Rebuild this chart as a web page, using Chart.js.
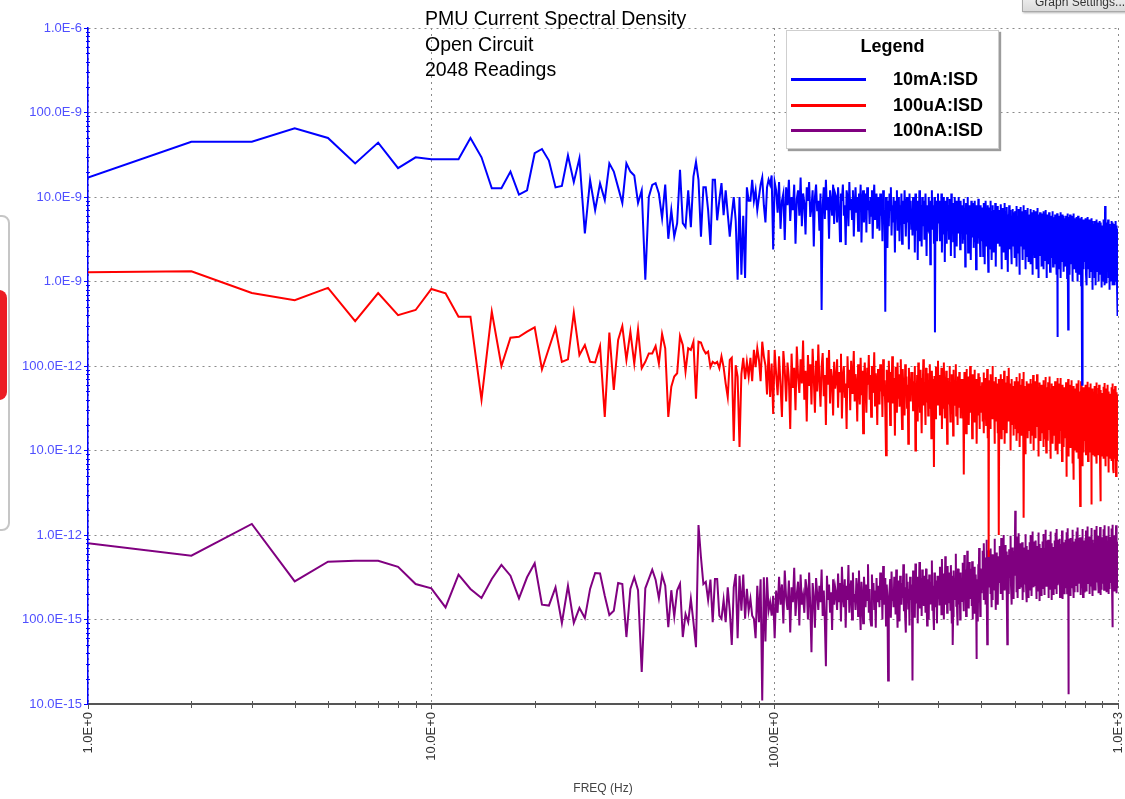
<!DOCTYPE html>
<html lang="en">
<head>
<meta charset="utf-8">
<title>PMU Current Spectral Density</title>
<script src="https://cdn.jsdelivr.net/npm/chart.js@4.4.1/dist/chart.umd.min.js"></script>
<style>
  html, body { margin: 0; padding: 0; background: #ffffff; }
  #frame { position: relative; width: 1125px; height: 799px; overflow: hidden;
           font-family: "Liberation Sans", Arial, sans-serif; }
  #isdChart { position: absolute; left: 0; top: 0; }
  #plotTitle { position: absolute; left: 425px; top: 6px; font-size: 19.5px; line-height: 25.5px;
               color: #000; white-space: nowrap; }
  #legendBox { position: absolute; left: 786px; top: 30px; width: 211px; height: 117px; background: #fff;
               border: 1px solid #cfcfcf; box-shadow: 2px 2px 1px #9c9c9c; }
  #legendBox .head { position: absolute; left: 0; right: 0; top: 5px; text-align: center;
                     font-weight: bold; font-size: 18px; line-height: 21px; color: #000; }
  #legendBox .entry { position: absolute; left: 0; width: 100%; height: 24px; }
  #legendBox .swatch { position: absolute; left: 4px; top: 11px; width: 75px; height: 3px; }
  #legendBox .name { position: absolute; left: 106px; top: 0; font-weight: bold; font-size: 18px;
                     line-height: 24px; color: #000; white-space: nowrap; }
  #settingsBtn { position: absolute; left: 1022px; top: -9px; width: 110px; height: 21px;
                 background: linear-gradient(#f6f6f6, #dadada); border: 1px solid #a9a9a9;
                 box-shadow: 1px 1px 2px #b5b5b5; font-size: 12px; line-height: 14px;
                 padding: 3px 0 0 12px; box-sizing: border-box; color: #333; white-space: nowrap; }
  #sidePanel { position: absolute; left: -14px; top: 215px; width: 20px; height: 312px;
               border: 2px solid #c6c6c6; border-radius: 8px; background: #fff; }
  #sideTab { position: absolute; left: -20px; top: 290px; width: 27px; height: 110px;
             background: #ec1c24; border-radius: 8px; }
</style>
</head>
<body>
<div id="frame">
  <canvas id="isdChart" width="1125" height="799"></canvas>
  <div id="plotTitle"></div>
  <div id="legendBox"><div class="head">Legend</div></div>
  <div id="settingsBtn">Graph Settings...</div>
  <div id="sidePanel"></div>
  <div id="sideTab"></div>
</div>
<script>
// Header lines and series names
const titleLines = ['PMU Current Spectral Density', 'Open Circuit', '2048 Readings'];
const seriesNames = ['10mA:ISD', '100uA:ISD', '100nA:ISD'];
const seriesColors = ['#0000ff', '#ff0000', '#800080'];

// Frequency bins, 1 Hz apart
const freqHz = [];
for (let f = 1; f <= 1000; f++) freqHz.push(f);

// Axis ticks (decades only)
const xTickValues = [1, 10, 100, 1000];
const xTickLabels = ['1.0E+0', '10.0E+0', '100.0E+0', '1.0E+3'];
const yTickValues = [1e-14, 1e-13, 1e-12, 1e-11, 1e-10, 1e-9, 1e-8, 1e-7, 1e-6];
const yTickLabels = ['10.0E-15', '100.0E-15', '1.0E-12', '10.0E-12', '100.0E-12',
                     '1.0E-9', '10.0E-9', '100.0E-9', '1.0E-6'];

// 10mA range ISD in nA, 1..100 Hz
const blueLowNA = [
  17,45,45,65,50,25,44,22,29.5,28, 28,28,50,29.5,12.7,12.7,20,10.7,12,33,
  37,27,13,13.5,31,15,28.7,3.7,15.9,7, 14.5,9.2,25,20,13,8.5,25,20,18,8.5,
  12,1.05,10,13.9,14.6,11,5.6,14,3.2,7, 3.4,4.9,21,4.9,4.4,12,4.4,17.4,26,16,
  3.4,13,13,7,2.7,16,16,5.3,9.2,14.6, 6.1,12,6.3,3.4,6.1,10,5.3,1.05,10,1.2,
  6,1.1,13,9,9,16,9,12,7,10, 14,17,8,5,13,16,14,18,2.4,15
];
// 10mA range ISD in nA, 101..1000 Hz
const blueHighNA = [
  12,6.5,15,4.2,9,11,3.1,13,8,16,5.2,10,7,14,2.8,9.5,12,6,17,4.5,11,8.5,3.6,13,9,
  15,5.8,7.5,12,2.6,10,14,6.8,9,4,11,0.46,8,13,5.5,16,7,10,3.2,12,9,6,14,4.8,11,
  10,5,13,7.5,3,11,9,14,6,8,2.7,12,10,4.5,15,7,9.5,5.5,12,3.4,8,13,6.5,10,4,
  11,7,14,2.9,9,12,5,8.5,11,3.8,13,7,9,4.8,10,6,12,3.2,9,14,5.5,8,11,4.2,10,
  8,4,11,6,9,3,12,5.5,7,0.44,10,6.5,2.5,9,4.5,11,7,13,3.5,8,5,10,6,2.2,9,
  7.5,12,4,6.5,10,3,8,5.5,11,2.8,7,9,4.8,12,6,3.4,8.5,10,5,7,2.4,11,6,9,4.2,
  7,3.5,10,5,8,2.2,11,6,4,9,1.8,7.5,5.5,12,3,8,6.5,2.6,10,4.5,6,9,3.2,7,11,
  5,2,8,6,4,10,3.8,7,1.6,9,5.5,12,4.2,6.5,8,2.8,10,0.25,7,4.5,9,3,6,11,5,
  6,9,3,7.5,4.5,11,2.2,8,5.5,10,3.6,6.5,1.7,9,5,7,2.8,10,4,8,6,3.2,9.5,5,7,
  2,11,4.5,6,8.5,3,7,5.5,1.9,10,4,6.5,9,2.6,8,5,3.8,7,10,4.2,6,2.4,9,5.5,7,
  5.5,8,2.8,6.5,4,9.5,3.2,7,1.5,5,8.5,3.6,6,4.5,10,2.2,7.5,5,3,8,4,6.5,1.8,9,5.5,
  3.4,7,4.2,8.5,2.5,6,5,9,3,7,1.4,5.5,8,4,6.5,2.8,9.5,5,3.6,7,4.4,2,8,5.5,6,
  5,7.5,3,6,2,8.5,4.5,5.5,1.6,7,3.8,9,4.2,2.6,6.5,5,8,3.2,1.3,6,4.8,7.5,2.4,5.5,9,
  3.6,4.4,6.8,1.8,5,8,3,6,4,2.2,7,5.2,3.4,8.5,4.6,1.5,6.2,5,3,7.8,4,2.8,6.6,5.4,3.6,
  4.8,7,2.6,5.6,3.4,8.2,4.2,1.4,6,5,3,7.4,4.4,2.2,6.4,5.2,8.5,3.2,4.6,1.8,6.8,4,5.4,2.8,7.6,
  3.6,4.8,1.3,6.2,5,3.4,8,4.2,2.4,5.8,4.4,7,3,1.6,6,5.2,3.8,7.2,2.6,4.6,6.4,3.2,5,1.9,6.6,
  4.2,6.8,2.8,5.2,3.6,7.8,1.5,4.8,6,3.2,5.6,2.2,7.2,4,3.4,6.4,1.2,5,4.4,7.6,3,5.8,2.6,4.6,6.8,
  3.8,1.8,5.4,4.2,8,3.2,2.4,6.2,4.8,3.6,7,1.4,5.2,4,2.8,6.6,3.4,5,2,7.4,4.4,3,5.6,1.7,6,
  4.4,6.2,2.4,5,3.4,7.2,1.6,4.6,3.8,5.8,2.8,6.6,1.2,4.2,5.4,3,7,2.2,4.8,3.6,6,1.9,5.2,4,2.6,
  6.8,3.4,4.4,1.4,5.6,3.8,7.4,2.8,4.6,5,1.1,6.2,3.2,4.2,2.4,5.8,3.6,6.6,2,4.8,3.4,5.4,1.5,6.4,4,
  3.8,6,2.2,4.8,3.2,6.8,1.4,4.4,5.4,2.8,3.6,6.4,1.8,4.2,5,2.4,7,3.4,1.1,5.6,4,3,6.2,2.6,4.6,
  3.8,1.6,5.8,3.2,6.6,2.2,4.4,5.2,1.3,3.6,6,2.8,4.8,3.4,1.9,5.4,4.2,2.4,6.8,3,4.6,1.5,5.6,3.8,4.4,
  4.2,2.6,5.8,3.4,1.6,6.2,4,3,5.2,2.2,4.6,1.2,5.6,3.6,6.4,2.8,0.22,4.4,3.2,5,1.8,6,3.8,2.4,4.8,
  1.4,5.4,3.4,6.6,2.6,4.2,1.1,5.8,3,4.6,2.2,6.2,3.6,1.7,5.2,4,2.8,6,3.2,1.3,4.8,3.8,5.6,2.4,4.4,
  3.6,5.4,2.2,4.4,1.5,6,3.2,4.8,2.6,5.6,1.1,4,3.4,6.4,2.8,0.27,5,3.6,1.8,4.6,5.8,2.4,3.8,1.2,6.2,
  3,4.4,2,5.2,3.4,1.6,4.8,6,2.6,3.6,1,5.4,4.2,2.2,4.8,3.2,6.4,1.9,4,2.8,5.6,1.4,3.8,5,3,
  3.4,5.2,2,4.2,1.3,5.8,3,4.6,2.4,5.4,1,3.8,4.8,2.6,6,3.2,1.6,4.4,5,2.2,3.6,1.2,5.6,2.8,4,
  1.8,5.2,3.4,2.4,4.6,0.9,5.8,3,4.2,2,0.06,3.6,0.1,4.8,2.6,5.4,1.4,3.8,4.4,2.2,5,3.2,1.7,4.6,3.6,
  3.2,5,1.8,4,2.6,5.6,1.2,3.6,4.6,2.2,3.4,0.9,5.2,2.8,4.2,1.6,5.8,3,2.4,4.8,3.6,1.4,4.4,2.6,5.4,
  3,1.1,4,3.4,2,5,2.8,4.6,1.7,3.8,5.6,2.4,3.2,1.3,4.4,2.8,5.2,3.6,0.8,4.2,2.2,3.4,4.8,1.9,3.8,
  3,4.8,1.6,3.8,2.6,5.2,1.1,3.4,4.4,2,3.2,0.9,5,2.6,4,1.5,5.4,3,2.2,4.6,3.4,1.3,4.2,2.4,5,
  2.8,1,3.8,3.2,1.8,4.8,2.6,4.4,1.6,3.6,5.2,2.2,3,1.2,4.2,2.6,5,3.4,0.85,4,2,3.2,4.6,1.7,3.6,
  2.8,4.6,1.5,3.6,2.4,5.4,1,3.2,4.2,1.9,3,0.9,4.8,2.6,3.8,1.4,7.8,2.8,2,4.4,3.2,1.2,4,2.2,5,
  2.6,0.95,3.6,3,1.7,4.6,2.4,4.2,1.5,3.4,5.4,2,2.8,1.1,4,2.4,4.8,3.2,0.8,3.8,1.9,3,4.4,1.6,3.4,
  2.6,4.4,1.4,3.4,2.2,5.2,1,3,4,1.8,2.8,0.9,4.6,2.4,3.6,1.3,5,2.6,1.9,4.2,3,1.1,3.8,2,4.8,
  2.4,0.9,3.4,2.8,1.6,4.4,2.2,4,1.4,3.2,5.2,1.9,2.6,1,3.8,2.2,4.6,3,0.8,0.39,1.8,2.8,4.2,1.5,3.2
];

// 100uA range ISD in pA, 1..100 Hz
const redLowPA = [
  1290,1320,730,600,840,340,730,400,460,815, 725,383,383,40,440,100,216,222,255,287,
  91,162,280,112,120,427,135,177,112,110, 172,25,248,52,203,297,118,255,107,272,
  94,112,141,141,172,107,239,162,25,57, 75,82,226,177,86,162,155,194,41,194,
  190,158,141,148,97,112,107,112,94,130, 97,62,43,118,125,13,102,75,11,80,
  125,70,112,75,125,66,155,97,162,118, 66,194,130,102,46,155,43,107,27,155
];
// 100uA range ISD in pA, 101..1000 Hz
const redHighPA = [
  80,45,130,60,25,150,90,38,110,70,18,140,55,95,30,170,75,48,120,62,200,40,88,22,135,
  58,105,35,160,72,28,115,50,180,66,33,98,142,44,78,20,125,60,155,36,92,70,26,112,54,
  68,120,32,85,50,140,24,75,100,42,62,18,130,55,90,30,115,48,72,150,38,80,58,22,105,
  66,35,125,45,88,16,70,110,52,28,95,60,135,40,78,25,100,48,65,145,34,82,56,20,92,
  60,35,105,50,78,25,120,44,68,30,8.8,90,55,38,115,62,20,85,46,130,36,72,52,15,98,
  58,28,110,42,80,33,64,120,40,18,92,54,70,26,105,48,75,32,60,12,95,45,68,38,85,
  52,85,30,66,45,100,10,58,36,78,22,110,48,62,28,90,40,16,72,55,120,34,64,44,20,
  95,50,38,82,26,68,46,105,32,58,14,88,42,70,30,6.4,76,48,24,98,40,60,35,115,52,
  45,78,26,60,40,95,18,52,70,32,110,44,24,66,50,88,30,12,72,42,58,36,100,48,22,
  64,40,80,28,55,15,90,46,34,68,38,105,26,60,44,20,75,50,32,85,40,62,24,70,48,
  40,70,24,56,36,5.2,85,44,30,62,16,92,38,52,26,75,42,20,66,34,100,46,28,58,38,
  14,80,48,32,64,22,90,40,54,30,70,36,12,60,44,26,82,38,50,18,74,34,58,42,28,
  36,64,22,50,34,84,16,44,58,28,72,38,20,62,40,92,30,14,54,0.55,46,26,68,36,18,
  80,42,32,58,24,100,38,50,28,66,34,12,56,44,22,74,36,26,62,40,16,52,30,70,1,
  34,60,20,48,32,80,14,42,56,26,70,36,18,58,38,88,28,12,52,40,64,24,46,34,16,
  76,38,30,54,22,95,36,48,26,62,32,10,54,42,20,70,34,24,58,38,15,50,28,66,36,
  32,56,18,44,30,74,13,40,52,24,66,34,16,54,36,82,26,11,48,38,60,22,44,32,15,
  70,36,28,50,20,85,1.6,44,24,58,30,9,50,40,18,66,32,22,54,36,14,46,26,62,34,
  30,54,17,42,28,70,12,38,50,22,62,32,15,52,34,78,24,10,46,36,58,20,42,30,14,
  66,34,26,48,19,80,32,40,22,56,28,8.5,48,38,17,64,30,21,52,34,13,44,25,60,32,
  28,52,16,40,26,68,11,36,48,21,60,30,14,50,32,74,23,9.5,44,34,56,19,40,28,13,
  64,32,25,46,18,75,30,38,21,54,27,8,46,36,16,62,29,20,50,32,12,42,24,58,30,
  27,50,15,38,25,66,10,35,46,20,58,29,13,48,31,72,22,9,42,33,54,18,38,27,12,
  62,31,24,44,17,72,29,37,20,52,26,7.5,44,35,15,60,28,19,48,31,11,40,23,56,29,
  26,48,14,37,24,64,10,4.9,44,19,56,28,12,46,30,70,21,8.5,40,32,52,17,36,26,11,
  60,30,23,42,16,68,28,36,19,50,25,7,44,34,14,58,27,4.5,46,30,10,38,22,54,28,
  25,46,14,36,23,62,9.5,34,42,18,54,27,11,44,29,68,20,8,39,31,50,16,35,25,10,
  2.2,29,22,41,15,66,27,35,18,48,24,6.5,42,33,13,56,26,17,44,29,9.5,37,21,52,27,
  24,44,13,35,22,60,9,33,40,17,52,26,10.5,42,28,65,19,7.5,38,30,48,15,34,24,9.5,
  56,28,21,40,14,62,26,34,17,46,23,2.3,40,32,12,54,25,16,42,28,9,36,20,50,26,
  23,43,13,34,21,58,8.5,32,39,16,50,25,10,41,27,64,18,7,37,29,47,14,33,23,9,
  55,27,20,39,13,60,25,33,16,45,22,6,2.5,31,11,52,24,15,41,27,8.5,35,19,48,25,
  22,42,12,33,20,57,8,31,38,15,48,24,9.5,40,26,63,17,6.5,36,28,46,13,32,22,8.5,
  54,26,19,38,12,60,24,32,15,44,21,5.5,38,30,10,50,23,14,40,26,8,34,18,47,24,
  21,41,12,32,19,56,7.5,30,37,14,47,23,9,39,25,62,16,6,35,5.4,45,12,31,21,8,
  53,25,18,37,11,58,23,31,14,43,20,5,37,29,9.5,49,22,13,39,25,7.5,33,17,46,23
];

// 100nA range ISD in fA, 1..100 Hz
const purpleLowFA = [
  800,570,1350,283,483,495,495,420,263,234, 139,339,230,180,302,442,330,178,316,462,
  150,146,240,91,251,91,137,104,230,355, 350,191,113,127,270,262,62,230,316,222,
  24,234,302,388,296,178,335,251,81,222, 108,222,265,62,116,93,175,93,47,1313,
  545,262,279,170,296,93,302,302,111,102, 170,93,240,127,50,240,345,60,330,127,
  340,102,230,127,175,111,102,60,251,93, 300,11,316,55,316,127,160,111,191,60
];
// 100nA range ISD in fA, 101..1000 Hz
const purpleHighFA = [
  220,120,320,150,260,90,380,180,130,290,70,240,160,410,110,200,280,85,340,150,190,120,300,230,100,
  360,140,41,270,180,80,310,200,130,250,160,390,110,220,95,28,330,170,260,120,210,75,300,150,240,
  200,130,350,160,270,95,420,190,140,300,80,250,170,440,120,210,290,100,360,160,200,130,310,240,110,
  380,150,75,280,190,90,320,210,140,260,170,450,120,230,100,85,340,180,270,130,220,80,310,160,250,
  210,140,360,170,280,100,430,200,150,310,85,260,180,19,130,220,300,105,370,170,210,140,320,250,115,
  390,160,80,290,200,95,330,220,150,270,180,450,125,240,105,70,350,190,280,135,230,85,320,170,260,
  220,19,380,175,290,105,460,210,155,320,90,270,185,480,135,230,310,110,390,180,220,145,330,260,120,
  400,165,85,300,210,100,340,230,155,280,190,500,130,250,110,75,360,200,290,140,240,90,330,175,270,
  240,150,420,190,320,115,520,230,170,350,100,300,200,560,150,250,340,120,430,200,240,160,360,290,130,
  440,180,90,330,50,110,380,250,170,310,210,600,145,270,120,85,400,220,320,155,260,100,360,190,300,
  260,165,470,210,350,125,580,250,185,390,110,330,220,650,165,280,380,135,480,220,270,175,400,320,145,
  490,200,100,360,250,120,420,280,190,340,230,34,160,300,135,95,450,240,700,170,290,110,400,210,330,
  360,230,650,290,480,170,800,350,260,540,150,460,310,880,230,51,520,190,660,310,380,240,560,440,200,
  690,280,140,500,350,170,590,390,270,470,320,900,220,420,190,130,620,330,560,240,400,150,560,290,460,
  420,270,740,330,560,200,920,400,300,620,170,530,360,1000,270,450,600,220,760,360,430,280,640,510,230,
  51,320,160,580,400,200,680,450,310,540,370,980,250,480,220,150,710,380,640,280,460,175,640,330,530,
  440,1940,780,350,590,210,960,420,320,650,180,560,380,1050,280,470,630,230,800,380,450,290,670,540,240,
  820,340,170,610,420,210,710,470,330,570,390,1020,260,500,230,160,740,400,670,290,480,185,670,350,560,
  460,300,820,370,620,220,1000,440,330,680,190,590,400,1100,300,490,660,240,840,400,470,310,700,560,250,
  860,360,175,640,440,220,740,490,350,600,410,1070,275,520,240,165,780,420,700,305,500,195,700,365,590,
  470,310,840,380,640,230,1030,450,340,700,195,600,410,1150,310,500,680,250,860,410,480,320,720,580,260,
  880,370,180,660,450,225,760,500,360,620,420,1100,285,540,250,170,800,430,720,315,510,200,720,375,600,
  480,320,860,390,650,235,1060,460,350,720,200,620,420,1180,320,510,700,255,880,420,490,330,740,590,265,
  900,380,185,680,460,230,780,510,370,630,430,1130,290,550,255,175,820,440,740,320,520,205,740,385,620,
  490,330,880,400,670,240,1080,470,360,730,205,630,430,1200,330,520,710,13,900,430,500,340,760,600,270,
  920,390,190,700,470,235,800,520,380,650,440,1150,300,560,260,180,840,450,760,330,530,210,760,395,630,
  500,340,900,410,690,250,1100,480,370,750,210,650,440,1230,340,530,730,265,920,440,510,350,780,610,275,
  940,400,195,720,480,240,820,530,390,660,450,1180,310,570,270,185,860,460,780,340,540,215,780,405,650,
  510,350,920,420,700,255,1130,490,380,770,215,660,450,1260,350,540,750,270,940,450,520,360,800,620,280,
  960,410,200,740,490,245,840,540,400,680,460,1210,320,580,275,190,880,470,800,345,550,220,800,415,670,
  520,355,930,425,710,260,1150,495,385,780,220,670,455,1280,355,545,760,275,950,455,525,365,810,630,285,
  970,415,205,750,495,250,850,545,405,690,465,1240,325,585,280,195,890,475,810,350,555,225,810,420,680,
  525,360,940,430,720,265,1170,500,390,790,225,680,460,1300,360,550,770,280,960,460,530,370,820,640,290,
  980,420,210,760,500,255,860,550,410,700,470,1270,330,590,285,200,900,480,820,355,560,230,820,425,690,
  530,365,950,435,730,270,1190,505,395,800,230,690,465,1320,81,555,780,285,970,465,535,375,830,650,295,
  990,425,215,770,505,260,870,555,415,710,475,1300,335,595,290,205,910,485,830,360,565,235,830,430,700
];

// Convert to amps and pair each value with its frequency bin
function toPoints(values, unit) {
  return freqHz.map((f, i) => ({ x: f, y: values[i] * unit }));
}

const seriesAmps = [
  toPoints(blueLowNA.concat(blueHighNA), 1e-9),
  toPoints(redLowPA.concat(redHighPA), 1e-12),
  toPoints(purpleLowFA.concat(purpleHighFA), 1e-15)
];

// Header and legend text
document.getElementById('plotTitle').innerHTML = titleLines.map(t => '<div>' + t + '</div>').join('');
const legendBox = document.getElementById('legendBox');
seriesNames.forEach((name, i) => {
  const entry = document.createElement('div');
  entry.className = 'entry';
  entry.style.top = (36 + i * 25.5) + 'px';
  entry.innerHTML = '<div class="swatch" style="background:' + seriesColors[i] + '"></div>' +
                    '<div class="name">' + name + '</div>';
  legendBox.appendChild(entry);
});

// Short minor tick marks on both axes at 2..9 x decade
const minorTicks = {
  id: 'minorTicks',
  afterDraw(chart) {
    const { ctx, scales: { x, y } } = chart;
    ctx.save();
    ctx.lineWidth = 1;
    ctx.strokeStyle = '#0000ff';
    ctx.beginPath();
    for (let d = -14; d < -6; d++) {
      for (let k = 2; k < 10; k++) {
        const py = Math.round(y.getPixelForValue(k * Math.pow(10, d))) + 0.5;
        ctx.moveTo(x.left - 2, py);
        ctx.lineTo(x.left + 2, py);
      }
    }
    ctx.stroke();
    ctx.strokeStyle = '#555555';
    ctx.beginPath();
    for (let d = 0; d < 3; d++) {
      for (let k = 2; k < 10; k++) {
        const px = Math.round(x.getPixelForValue(k * Math.pow(10, d))) + 0.5;
        ctx.moveTo(px, y.bottom - 3);
        ctx.lineTo(px, y.bottom + 4);
      }
    }
    ctx.stroke();
    ctx.restore();
  }
};

const tickFont = { family: '"Liberation Sans", Arial, sans-serif', size: 13 };

new Chart(document.getElementById('isdChart'), {
  type: 'line',
  data: {
    datasets: seriesNames.map((name, i) => ({
      label: name,
      data: seriesAmps[i],
      borderColor: seriesColors[i],
      backgroundColor: seriesColors[i],
      borderWidth: 2,
      pointRadius: 0,
      tension: 0,
      fill: false
    }))
  },
  options: {
    responsive: false,
    animation: false,
    devicePixelRatio: 1,
    parsing: false,
    layout: { padding: { top: 28, right: 7, left: 0, bottom: 0 } },
    plugins: {
      legend: { display: false },
      tooltip: { enabled: false }
    },
    scales: {
      x: {
        type: 'logarithmic',
        min: 1,
        max: 1000,
        afterBuildTicks: s => { s.ticks = xTickValues.map(v => ({ value: v })); },
        afterFit: s => { s.height = 95; s.paddingLeft = 0; s.paddingRight = 0; },
        ticks: {
          autoSkip: false,
          minRotation: 90,
          maxRotation: 90,
          padding: 3,
          color: '#333333',
          font: tickFont,
          callback: (v, i) => xTickLabels[i]
        },
        grid: { color: '#8a8a8a', lineWidth: 1, tickLength: 5, tickColor: '#555555' },
        border: { display: true, color: '#555555', width: 2, dash: [2, 4] },
        title: {
          display: true,
          text: 'FREQ (Hz)',
          color: '#444444',
          font: { family: '"Liberation Sans", Arial, sans-serif', size: 12 },
          padding: { top: 4, bottom: 3 }
        }
      },
      y: {
        type: 'logarithmic',
        min: 1e-14,
        max: 1e-6,
        afterBuildTicks: s => { s.ticks = yTickValues.map(v => ({ value: v })); },
        afterFit: s => { s.width = 88; s.paddingTop = 0; s.paddingBottom = 0; },
        ticks: {
          autoSkip: false,
          padding: 2,
          color: '#4f4fff',
          font: tickFont,
          callback: (v, i) => yTickLabels[i]
        },
        grid: { color: '#8a8a8a', lineWidth: 1, tickLength: 4, tickColor: '#0000ff' },
        border: { display: true, color: '#0000ff', width: 1.5, dash: [2, 4] }
      }
    }
  },
  plugins: [minorTicks]
});
</script>
</body>
</html>
